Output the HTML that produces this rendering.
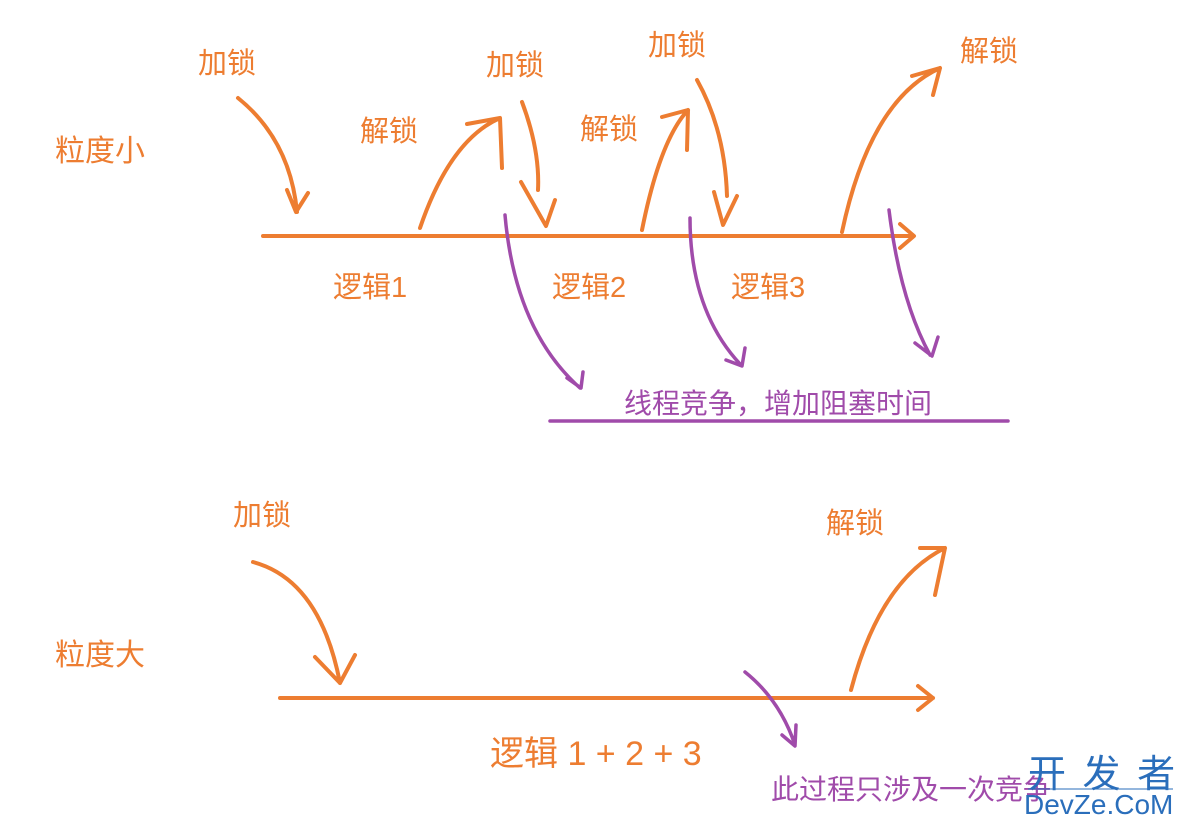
<!DOCTYPE html>
<html><head><meta charset="utf-8"><style>
html,body{margin:0;padding:0;background:#fff;width:1183px;height:824px;overflow:hidden}
svg{display:block}
text{font-family:"Liberation Sans","Noto Sans CJK SC",sans-serif}
.o{fill:#ED7D31;font-size:29px}
.p{fill:#A04BAA;font-size:28px}
</style></head><body>
<svg width="1183" height="824" viewBox="0 0 1183 824">
<g fill="none" stroke="#ED7D31" stroke-width="4" stroke-linecap="round" stroke-linejoin="round">
<path d="M263 236 L913 236 M900 224 L914 236 L900 248"/>
<path d="M238 98 Q290 140 297 212 M287 190 L296 212 L308 193"/>
<path d="M420 228 Q450 140 500 118 M467 124 L500 118 L502 168"/>
<path d="M522 102 Q540 150 538 190 M521 182 L546 226 L555 200"/>
<path d="M642 230 Q660 140 688 110 M662 117 L688 110 L687 150"/>
<path d="M697 80 Q725 130 727 196 M714 192 L723 225 L737 196"/>
<path d="M842 232 Q870 100 940 68 M912 76 L940 68 L933 95"/>
<path d="M280 698 L933 698 M918 686 L933 698 L918 710"/>
<path d="M253 562 Q320 580 340 683 M315 657 L340 683 L355 655"/>
<path d="M851 690 Q880 580 945 548 M920 548 L945 548 L935 595"/>
</g>
<g fill="none" stroke="#A04BAA" stroke-width="3.5" stroke-linecap="round" stroke-linejoin="round">
<path d="M505 215 Q515 330 580 388 M567 378 L581 388 L583 372"/>
<path d="M690 218 Q690 310 740 364 M726 360 L742 366 L745 348"/>
<path d="M889 210 Q900 300 930 355 M915 343 L932 356 L938 337"/>
<path d="M550 421 L1008 421"/>
<path d="M745 672 Q780 700 795 745 M782 735 L795 746 L796 725"/>
</g>
<text class="o" x="198" y="73">加锁</text>
<text class="o" x="486" y="75">加锁</text>
<text class="o" x="648" y="55">加锁</text>
<text class="o" x="960" y="61">解锁</text>
<text class="o" x="360" y="141">解锁</text>
<text class="o" x="580" y="139">解锁</text>
<text class="o" x="55" y="161" style="font-size:30px">粒度小</text>
<text class="o" x="333" y="297">逻辑1</text>
<text class="o" x="552" y="297">逻辑2</text>
<text class="o" x="731" y="297">逻辑3</text>
<text class="p" x="624" y="413">线程竞争，增加阻塞时间</text>
<text class="o" x="233" y="525">加锁</text>
<text class="o" x="826" y="533">解锁</text>
<text class="o" x="55" y="665" style="font-size:30px">粒度大</text>
<text class="o" x="490" y="765" style="font-size:34px">逻辑 1 + 2 + 3</text>
<text class="p" x="771" y="799">此过程只涉及一次竞争</text>
<text x="1028" y="787" style="fill:#2A6EBB;font-size:38px;letter-spacing:3px">开 发 者</text>
<line x1="1028" y1="789" x2="1173" y2="789" stroke="#2A6EBB" stroke-width="1"/>
<text x="1024" y="814" style="fill:#2A6EBB;font-size:28px">DevZe.CoM</text>
</svg>
</body></html>
